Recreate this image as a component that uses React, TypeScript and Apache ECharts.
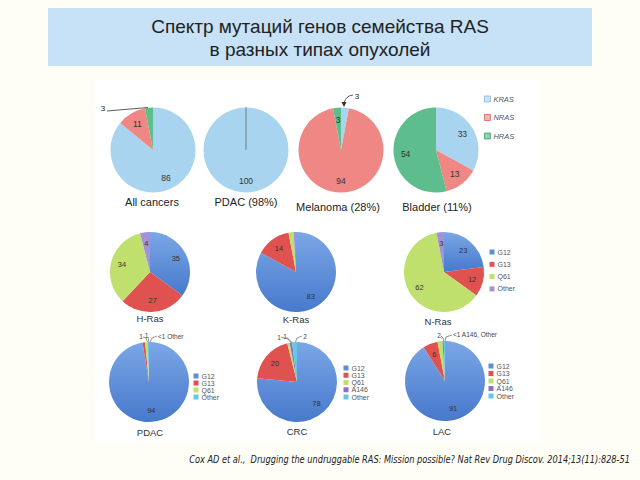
import React, { useEffect, useRef } from 'react';
import * as echarts from 'echarts';

// ---- data ----
const topGenes = ['KRAS', 'NRAS', 'HRAS'];
const allCancersValues = [86, 11, 3];
const pdacTopValues = [100, 0, 0];
const melanomaValues = [3, 94, 3];
const bladderValues = [33, 13, 54];
const topCaptions = ['All cancers', 'PDAC (98%)', 'Melanoma (28%)', 'Bladder (11%)'];

const codons4 = ['G12', 'G13', 'Q61', 'Other'];
const hrasValues = [35, 27, 34, 4];
const krasValues = [83, 14, 2, 1];
const nrasValues = [23, 12, 62, 3];
const midCaptions = ['H-Ras', 'K-Ras', 'N-Ras'];

const codons5 = ['G12', 'G13', 'Q61', 'A146', 'Other'];
const pdacValues = [94, 1, 1, 0.5];
const crcValues = [78, 20, 1, 1, 2];
const lacValues = [91, 6, 2, 0.5, 0.5];
const bottomCaptions = ['PDAC', 'CRC', 'LAC'];

const titleLines = ['Спектр мутаций генов семейства RAS', 'в разных типах опухолей'];
const citation =
  'Cox AD et al.,  Drugging the undruggable RAS: Mission possible? Nat Rev Drug Discov. 2014;13(11):828-51';

// ---- styles ----
const FONT = '"Liberation Sans", Arial, Helvetica, sans-serif';
const C_KRAS = '#a9d4f0';
const C_NRAS = '#ef8784';
const C_HRAS = '#5dbd8c';
const C_G12 = new echarts.graphic.LinearGradient(0, 0, 0, 1, [
  { offset: 0, color: '#7ba7e6' },
  { offset: 1, color: '#4779cc' },
]);
const C_G13 = '#e05250';
const C_Q61 = '#bfe06c';
const C_OTH_P = '#a592d6';
const C_A146 = '#8e6fc4';
const C_OTH_C = '#62c8e8';

function pie(
  id: string,
  names: string[],
  values: number[],
  colors: any[],
  cx: number,
  cy: number,
  r: number,
  hidden: number[],
  fontSize: number,
  zeroBorder = false
) {
  const base = {
    type: 'pie',
    center: [cx, cy],
    startAngle: 90,
    clockwise: true,
    silent: true,
    avoidLabelOverlap: false,
    labelLine: { show: false },
  };
  return [
    {
      ...base,
      id,
      radius: [0, r],
      label: { show: false },
      data: names.map((n, i) => ({
        name: n,
        value: values[i],
        itemStyle:
          zeroBorder && values[i] === 0
            ? { color: colors[i], borderColor: '#7f9bb0', borderWidth: 0.6 }
            : { color: colors[i] },
      })),
    },
    {
      ...base,
      id: id + '-labels',
      z: 3,
      radius: [r * 0.3, r],
      label: {
        show: true,
        position: 'inside',
        formatter: '{c}',
        fontSize,
        fontFamily: FONT,
        color: '#333',
      },
      data: names.map((n, i) => ({
        name: n,
        value: values[i],
        itemStyle: { color: 'rgba(0,0,0,0)' },
        label: { show: !hidden.includes(i) },
      })),
    },
  ];
}

function txt(text: string, x: number, y: number, size: number, extra: any = {}) {
  return {
    type: 'text',
    z: 50,
    x: extra.ox || 0,
    y: extra.oy || 0,
    scaleX: extra.scaleX || 1,
    style: {
      text,
      x,
      y,
      fill: extra.fill || '#222',
      font: `${extra.italic ? 'italic ' : ''}${extra.weight || 'normal'} ${size}px ${extra.family || FONT}`,
      align: extra.align || 'center',
      verticalAlign: 'middle',
      textAlign: extra.align || 'center',
      textVerticalAlign: 'middle',
      lineHeight: extra.lineHeight,
    },
  };
}

function ln(points: number[][], extra: any = {}) {
  return {
    type: 'polyline',
    z: 50,
    shape: { points },
    style: { stroke: extra.stroke || '#666', lineWidth: extra.lineWidth || 0.7, fill: null },
  };
}

function legend(items: { name: string; color: any; border?: string }[], left: number, top: number, gap: number, size: number, italic: boolean, lineH: number) {
  return {
    orient: 'vertical',
    left,
    top,
    itemGap: gap,
    itemWidth: size,
    itemHeight: size,
    icon: 'rect',
    selectedMode: false,
    padding: 0,
    textStyle: {
      fontSize: italic ? 7.5 : 7,
      fontStyle: italic ? 'italic' : 'normal',
      color: '#555',
      fontFamily: FONT,
      lineHeight: lineH,
      padding: [0, 0, 0, -2],
    },
    data: items.map((it) => ({
      name: it.name,
      itemStyle: it.border
        ? { color: it.color, borderColor: it.border, borderWidth: 0.8 }
        : { color: it.color, borderWidth: 0 },
    })),
  };
}

export default function App() {
  const ref = useRef<HTMLDivElement>(null);
  useEffect(() => {
    if (!ref.current) return;
    const chart = echarts.init(ref.current, null, { renderer: 'svg' });
    const topColors = [C_KRAS, C_NRAS, C_HRAS];
    const c4 = [C_G12, C_G13, C_Q61, C_OTH_P];
    const c4b = [C_G12, C_G13, C_Q61, C_OTH_C];
    const c5 = [C_G12, C_G13, C_Q61, C_A146, C_OTH_C];

    const series = [
      ...pie('allc', topGenes, allCancersValues, topColors, 153, 150, 42.5, [2], 8.5),
      ...pie('pdacTop', topGenes, pdacTopValues, topColors, 246, 150, 42.5, [1, 2], 8.5, true),
      ...pie('mel', topGenes, melanomaValues, topColors, 341, 150, 42.5, [0], 8.5),
      ...pie('bla', topGenes, bladderValues, topColors, 436, 150, 42.5, [], 8.5),
      ...pie('hras', codons4, hrasValues, c4, 150, 272, 40, [], 7.5),
      ...pie('kras', codons4, krasValues, c4, 296, 272, 40, [2, 3], 7.5),
      ...pie('nras', codons4, nrasValues, c4, 444, 272, 40, [], 7.5),
      ...pie('pdac', codons4, pdacValues, c4b, 149, 382, 40, [1, 2, 3], 7.5),
      ...pie('crc', codons5, crcValues, c5, 297, 382, 40, [2, 3, 4], 7.5),
      ...pie('lac', codons5, lacValues, c5, 445, 381, 40, [2, 3, 4], 7.5),
    ];

    const graphic: any[] = [
      { type: 'rect', z: -10, shape: { x: 95, y: 80, width: 445, height: 362 }, style: { fill: '#ffffff' } },
      { type: 'rect', z: -5, shape: { x: 48, y: 8, width: 544, height: 58 }, style: { fill: '#c7e1f6' } },
      txt(titleLines.join('\n'), 320, 38, 19, { lineHeight: 23, fill: '#222' }),
      // captions
      txt(topCaptions[0], 152, 202, 11),
      txt(topCaptions[1], 246, 202, 11),
      txt(topCaptions[2], 338, 207, 11),
      txt(topCaptions[3], 437, 207, 11),
      txt(midCaptions[0], 150, 318, 9.5, { fill: '#333' }),
      txt(midCaptions[1], 296, 319, 9.5, { fill: '#333' }),
      txt(midCaptions[2], 438, 321, 9.5, { fill: '#333' }),
      txt(bottomCaptions[0], 150, 432, 9.5, { fill: '#333' }),
      txt(bottomCaptions[1], 297, 431, 9.5, { fill: '#333' }),
      txt(bottomCaptions[2], 442, 431, 9.5, { fill: '#333' }),
      // annotations top row
      txt('3', 103, 108, 8),
      ln([[107, 111], [148, 107.5]], { stroke: '#333', lineWidth: 0.8 }),
      txt('3', 357, 96, 8),
      {
        type: 'bezierCurve',
        z: 50,
        shape: { x1: 353, y1: 95, cpx1: 346, cpy1: 95.5, x2: 344, y2: 103 },
        style: { stroke: '#333', lineWidth: 0.8, fill: null },
      },
      { type: 'polygon', z: 50, shape: { points: [[341.5, 102], [346.5, 102], [344, 107]] }, style: { fill: '#333' } },
      // annotations bottom row: PDAC
      txt('1', 141, 336, 6.5, { fill: '#444' }),
      txt('1', 146.5, 335, 6.5, { fill: '#444' }),
      ln([[143, 337], [146, 338], [147.5, 342]]),
      ln([[148, 337], [149, 342]]),
      ln([[157, 336], [152, 338], [150, 342]]),
      txt('<1 Other', 158, 336, 6.5, { fill: '#444', align: 'left' }),
      // CRC
      txt('1', 279, 337, 6.5, { fill: '#444' }),
      txt('1', 285, 336, 6.5, { fill: '#444' }),
      ln([[281, 337], [288, 339], [291, 342.5]]),
      ln([[286.5, 337], [292, 342.5]]),
      ln([[302, 336], [297, 338], [295.5, 342]]),
      txt('2', 305, 336, 6.5, { fill: '#444' }),
      // LAC
      txt('2', 439, 335, 6.5, { fill: '#444' }),
      ln([[441, 336], [443, 338], [443.5, 341]]),
      ln([[452, 335], [446, 337], [445, 341]]),
      txt('<1 A146, Other', 453, 334, 6.5, { fill: '#444', align: 'left' }),
      // citation (condensed to fit the reference width)
      txt(citation, 0, 459, 10.5, {
        italic: true,
        family: '"DejaVu Sans Condensed", sans-serif',
        align: 'right',
        fill: '#222',
        ox: 630,
        scaleX: 0.87,
      }),
    ];

    chart.setOption({
      animation: false,
      backgroundColor: '#fffef6',
      legend: [
        legend(
          [
            { name: 'KRAS', color: '#c9e3f6', border: '#8db4d8' },
            { name: 'NRAS', color: '#f5b3b1', border: '#d9605c' },
            { name: 'HRAS', color: '#8fd1ae', border: '#3e9e6c' },
          ],
          484, 95, 10.5, 6, true, 8
        ),
        legend(
          [
            { name: 'G12', color: '#5b8fd9' },
            { name: 'G13', color: C_G13 },
            { name: 'Q61', color: C_Q61 },
            { name: 'Other', color: C_OTH_P },
          ],
          489.5, 248, 4.3, 5, false, 8
        ),
        legend(
          [
            { name: 'G12', color: '#5b8fd9' },
            { name: 'G13', color: C_G13 },
            { name: 'Q61', color: C_Q61 },
            { name: 'Other', color: C_OTH_C },
          ],
          193.5, 372.5, 0, 5, false, 7
        ),
        legend(
          [
            { name: 'G12', color: '#5b8fd9' },
            { name: 'G13', color: C_G13 },
            { name: 'Q61', color: C_Q61 },
            { name: 'A146', color: C_A146 },
            { name: 'Other', color: C_OTH_C },
          ],
          343.5, 364.5, 0.25, 5, false, 7
        ),
        legend(
          [
            { name: 'G12', color: '#5b8fd9' },
            { name: 'G13', color: C_G13 },
            { name: 'Q61', color: C_Q61 },
            { name: 'A146', color: C_A146 },
            { name: 'Other', color: C_OTH_C },
          ],
          488.5, 362.5, 0.5, 5, false, 7
        ),
      ],
      graphic,
      series,
    });
    return () => chart.dispose();
  }, []);
  return (
    <div
      ref={ref}
      style={{ position: 'absolute', left: 0, top: 0, width: 640, height: 480 }}
    />
  );
}
